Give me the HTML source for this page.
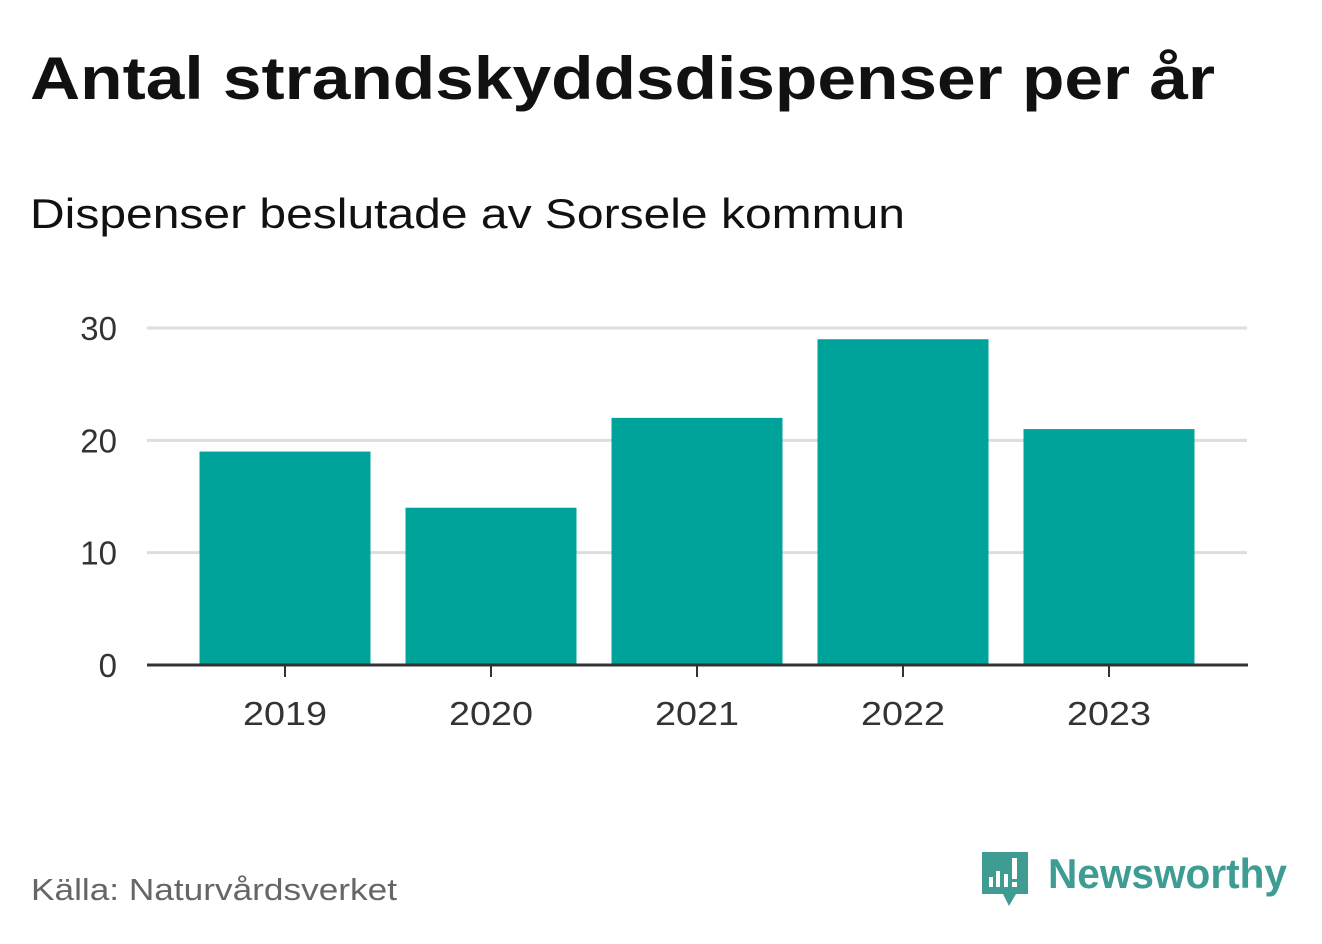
<!DOCTYPE html>
<html><head><meta charset="utf-8"><style>
body{margin:0;background:#fff;width:1322px;height:939px;overflow:hidden;font-family:"Liberation Sans",sans-serif}
</style></head><body>
<svg width="1322" height="939" xmlns="http://www.w3.org/2000/svg">
<text x="30" y="99" font-size="60" font-weight="bold" fill="#111" textLength="1185" lengthAdjust="spacingAndGlyphs">Antal strandskyddsdispenser per år</text>
<text x="30" y="228" font-size="42" fill="#111" textLength="875" lengthAdjust="spacingAndGlyphs">Dispenser beslutade av Sorsele kommun</text>
<g id="grid"></g><g id="bars"></g><g id="xaxis"></g>
<text x="31" y="900" font-size="31" fill="#666" textLength="366" lengthAdjust="spacingAndGlyphs">Källa: Naturvårdsverket</text>
<g>
<path d="M982 852 h46 v42 h-12 l-7 12 l-6 -12 h-21 z" fill="#3e9c93"/>
<rect x="989" y="877" width="4" height="10" fill="#fff"/><rect x="996" y="871" width="4" height="16" fill="#fff"/><rect x="1004" y="874" width="4" height="13" fill="#fff"/><rect x="1012" y="858" width="5" height="21" fill="#fff"/><rect x="1012" y="882" width="5" height="5" fill="#fff"/>
<text x="1048" y="888" font-size="42" font-weight="bold" fill="#3e9c93" textLength="239" lengthAdjust="spacingAndGlyphs">Newsworthy</text>
</g>
<script>
const categories=["2019","2020","2021","2022","2023"];
const values=[19,14,22,29,21];
const yTicks=[0,10,20,30];
const NS="http://www.w3.org/2000/svg";
const y0=665,yScale=(665-328)/30;
const y=v=>y0-v*yScale;
const x=i=>285+i*206;
const bw=171;
const grid=document.getElementById('grid'),bars=document.getElementById('bars'),xa=document.getElementById('xaxis');
function mk(t,a,p){const e=document.createElementNS(NS,t);for(const k in a)e.setAttribute(k,a[k]);p.appendChild(e);return e;}
yTicks.forEach(t=>{
 if(t>0){const l=mk('line',{x1:147,x2:1247,y1:y(t),y2:y(t),stroke:'#ddd','stroke-width':3},grid);
 
 }
 const tx=mk('text',{x:117,y:y(t)+12,'font-size':33,fill:'#333','text-anchor':'end'},grid);tx.textContent=t;
 
 
});
categories.forEach((c,i)=>{
 const r=mk('rect',{x:x(i)-bw/2,y:y(values[i]),width:bw,height:values[i]*yScale,fill:'#00a399'},bars);
 
 
 mk('line',{x1:x(i),x2:x(i),y1:y0,y2:y0+12,stroke:'#333','stroke-width':2},xa);
 const t=mk('text',{x:x(i),y:725,'font-size':33,fill:'#333','text-anchor':'middle',textLength:84,lengthAdjust:'spacingAndGlyphs'},xa);t.textContent=c;
 
 
});
const ax=mk('line',{x1:147,x2:1248,y1:y0,y2:y0,stroke:'#333','stroke-width':3},xa);


</script>
</svg>
</body></html>
